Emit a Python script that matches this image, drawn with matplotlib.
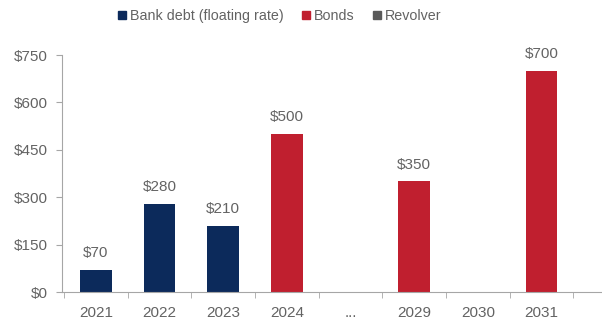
import matplotlib.pyplot as plt
from matplotlib.patches import Patch

years = ['2021', '2022', '2023', '2024', '...', '2029', '2030', '2031']
bank_debt = [70, 280, 210, 0, 0, 0, 0, 0]
bonds = [0, 0, 0, 500, 0, 350, 0, 700]
revolver = [0, 0, 0, 0, 0, 0, 0, 0]

navy = '#0c2a5b'
red = '#c01f2f'
grey = '#5a5a5a'
txt = '#636363'

plt.rcParams['font.family'] = ['Liberation Sans', 'DejaVu Sans']

fig = plt.figure(figsize=(6.02, 3.22), dpi=100)
ax = fig.add_axes([0.103, 0.093, 0.897, 0.736])

x = range(len(years))
ax.bar(x, bank_debt, width=0.5, color=navy)
ax.bar(x, bonds, width=0.5, bottom=bank_debt, color=red)
ax.bar(x, revolver, width=0.5, color=grey)

for i in x:
    total = bank_debt[i] + bonds[i] + revolver[i]
    if total > 0:
        ax.annotate('$%d' % total, (i, total), xytext=(0, 7), textcoords='offset points',
                    ha='center', va='bottom', fontsize=11, color=txt)

ax.set_ylim(0, 750)
ax.set_yticks([0, 150, 300, 450, 600, 750])
ax.set_yticklabels(['$0', '$150', '$300', '$450', '$600', '$750'])
ax.set_xlim(-0.53, 7.95)
ax.set_xticks(list(x))
ax.set_xticklabels(years)
ax.set_xticks([i - 0.5 for i in range(9)], minor=True)
ax.tick_params(axis='x', which='major', length=0, pad=10, labelsize=11, labelcolor=txt)
ax.tick_params(axis='x', which='minor', length=4, color='#a6a6a6')
ax.tick_params(axis='y', length=4, color='#a6a6a6', pad=6, labelsize=11, labelcolor=txt)

for s in ['top', 'right']:
    ax.spines[s].set_visible(False)
for s in ['left', 'bottom']:
    ax.spines[s].set_color('#a6a6a6')

handles = [Patch(color=navy, label='Bank debt (floating rate)'),
           Patch(color=red, label='Bonds'),
           Patch(color=grey, label='Revolver')]
fig.legend(handles=handles, loc='center', bbox_to_anchor=(0.465, 0.95), ncol=3, frameon=False,
           fontsize=10.3, labelcolor=txt, handlelength=0.55, handleheight=0.55,
           handletextpad=0.3, columnspacing=1.25)

fig.savefig('out.png', dpi=100)
